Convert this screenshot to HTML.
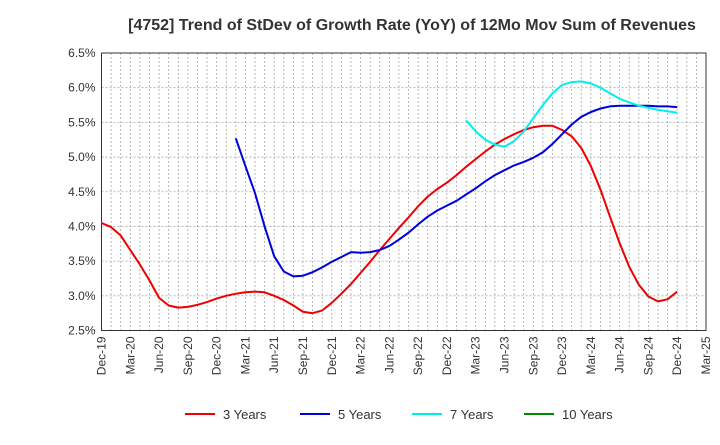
<!DOCTYPE html>
<html><head><meta charset="utf-8"><style>
body{margin:0;background:#fff;font-family:"Liberation Sans",sans-serif}
svg text{font-family:"Liberation Sans",sans-serif}
</style></head><body>
<svg id="chart" width="720" height="440" xmlns="http://www.w3.org/2000/svg">
<text x="412" y="30" text-anchor="middle" font-size="16" font-weight="bold" fill="#333">[4752]  Trend of StDev of Growth Rate (YoY) of 12Mo Mov Sum of Revenues</text>
<g id="grid"></g><g id="axes"></g><g id="series"></g><g id="legend"></g>
</svg>
<script>
const xLabels=["Dec-19","Mar-20","Jun-20","Sep-20","Dec-20","Mar-21","Jun-21","Sep-21","Dec-21","Mar-22","Jun-22","Sep-22","Dec-22","Mar-23","Jun-23","Sep-23","Dec-23","Mar-24","Jun-24","Sep-24","Dec-24","Mar-25"];
const yTicks=[2.5,3.0,3.5,4.0,4.5,5.0,5.5,6.0,6.5];
const s3Start=0;
const s3=[4.05,3.99,3.87,3.66,3.45,3.22,2.97,2.86,2.83,2.84,2.87,2.91,2.96,3.0,3.03,3.05,3.06,3.05,3.0,2.94,2.86,2.77,2.75,2.79,2.9,3.03,3.17,3.33,3.49,3.66,3.82,3.98,4.13,4.29,4.43,4.54,4.63,4.74,4.86,4.97,5.08,5.18,5.26,5.33,5.39,5.43,5.45,5.45,5.39,5.30,5.13,4.87,4.53,4.14,3.76,3.42,3.16,2.99,2.92,2.95,3.06];
const s5Start=14;
const s5=[5.27,4.87,4.48,4.0,3.57,3.35,3.28,3.29,3.34,3.41,3.49,3.56,3.63,3.62,3.63,3.66,3.72,3.81,3.91,4.03,4.14,4.23,4.30,4.37,4.46,4.55,4.65,4.74,4.81,4.88,4.93,4.99,5.07,5.19,5.33,5.47,5.58,5.65,5.70,5.73,5.74,5.74,5.74,5.74,5.73,5.73,5.72];
const s7Start=38;
const s7=[5.53,5.37,5.25,5.18,5.15,5.23,5.37,5.56,5.75,5.92,6.04,6.08,6.09,6.06,6.0,5.92,5.84,5.79,5.74,5.71,5.68,5.66,5.64];
const s10=[];
const L=101.5,R=706,T=53,B=330.5,NM=63;
const X=m=>L+(R-L)*m/NM;
const Y=v=>B-(B-T)*(v-2.5)/4;
const NS="http://www.w3.org/2000/svg";
function mk(p,t,a){const e=document.createElementNS(NS,t);for(const k in a)e.setAttribute(k,a[k]);p.appendChild(e);return e;}
const grid=document.getElementById('grid'),axes=document.getElementById('axes'),ser=document.getElementById('series'),leg=document.getElementById('legend');
for(let m=1;m<NM;m++){const l=mk(grid,'line',{x1:X(m),x2:X(m),y1:T,y2:B,stroke:'#aaa','stroke-width':0.8,'stroke-dasharray':'2,2'});

}
yTicks.forEach(v=>{const l=mk(grid,'line',{x1:L,x2:R,y1:Y(v),y2:Y(v),stroke:'#aaa','stroke-width':0.8,'stroke-dasharray':'2,2'});


const t=mk(axes,'text',{x:L-6,y:Y(v)+4,'text-anchor':'end','font-size':12,fill:'#333'});t.textContent=v.toFixed(1)+'%';

});
const fr=mk(axes,'rect',{x:L,y:T,width:R-L,height:B-T,fill:'none',stroke:'#333','stroke-width':1});


xLabels.forEach((s,i)=>{const x=X(i*3);const t=mk(axes,'text',{x:0,y:0,'text-anchor':'end','font-size':12,fill:'#333',transform:`translate(${x+4},${B+6}) rotate(-90)`});t.textContent=s;

});
function line(d,st,c,name){if(!d.length)return;const p=d.map((v,i)=>X(st+i).toFixed(1)+','+Y(v).toFixed(1)).join(' ');
const e=mk(ser,'polyline',{points:p,fill:'none',stroke:c,'stroke-width':2,'stroke-linejoin':'round'});

}
line(s3,s3Start,'#ee0000','series-3-years');
line(s5,s5Start,'#0000dd','series-5-years');
line(s7,s7Start,'#00eeee','series-7-years');
line(s10,0,'#008800','series-10-years');
[['3 Years','#ee0000',185],['5 Years','#0000dd',300],['7 Years','#00eeee',412],['10 Years','#008800',524]].forEach(([n,c,x])=>{
const g=mk(leg,'g',{});


mk(g,'line',{x1:x,x2:x+30,y1:414,y2:414,stroke:c,'stroke-width':2});
const t=mk(g,'text',{x:x+38,y:419,'font-size':13,fill:'#333'});t.textContent=n;});
</script>
</body></html>
